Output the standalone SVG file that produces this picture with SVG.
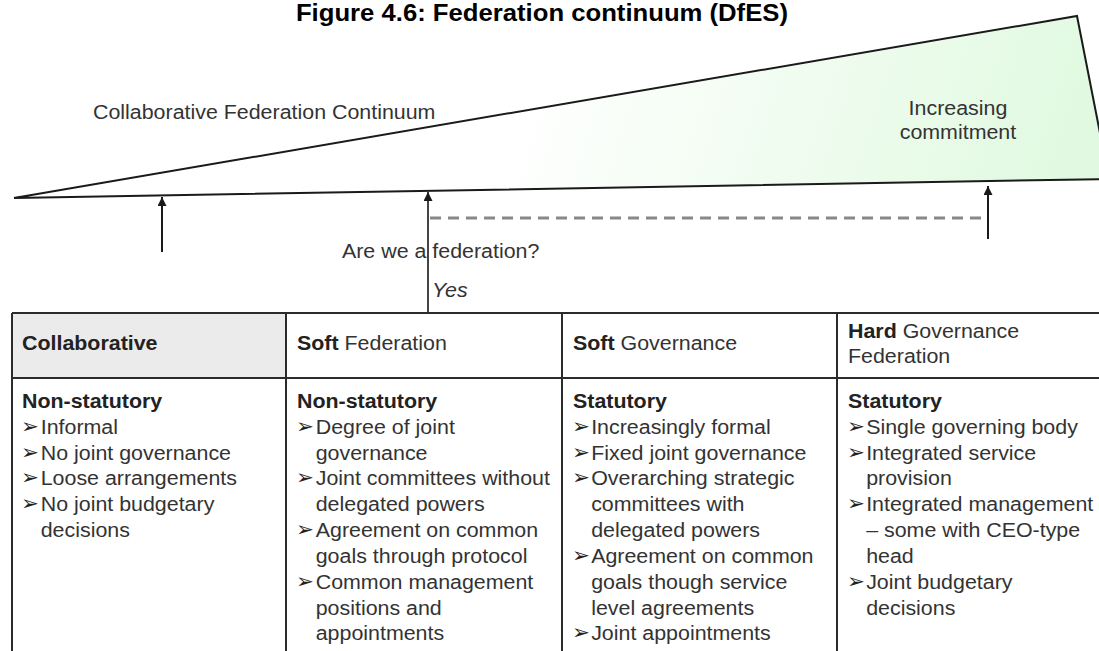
<svg xmlns="http://www.w3.org/2000/svg" width="1099" height="651" viewBox="0 0 1099 651">
<defs>
<linearGradient id="grn" gradientUnits="userSpaceOnUse" x1="540" y1="30" x2="1070" y2="200">
<stop offset="0" stop-color="#ffffff"/>
<stop offset="1" stop-color="#e0f9e0"/>
</linearGradient>
<marker id="ah" viewBox="0 0 10 10" refX="10" refY="5" markerWidth="9" markerHeight="9" markerUnits="userSpaceOnUse" orient="auto">
<path d="M0,0 L10,5 L0,10 Z" fill="#1a1a1a"/>
</marker>
<style>
text{font-family:"Liberation Sans",Arial,sans-serif;font-size:20px;fill:#333}
.b{font-weight:bold;fill:#222}
.t{font-size:24px;font-weight:bold;fill:#000}
.bl{font-family:"DejaVu Sans","Liberation Sans",sans-serif;font-size:20px;fill:#222}
.grid{stroke:#2b2b2b;stroke-width:2;fill:none}
</style>
</defs>
<rect width="1099" height="651" fill="#fff"/>

<g id="title" transform="scale(1.07 1)">
<text class="t" x="506.5" y="21" text-anchor="middle">Figure 4.6: Federation continuum (DfES)</text>
</g>

<g id="continuum">
<polygon points="14,198 1077,16 1109,179" fill="url(#grn)" stroke="#1a1a1a" stroke-width="2" stroke-linejoin="miter"/>
<g transform="scale(1.07 1)">
<text x="86.9" y="119">Collaborative Federation Continuum</text>
<text x="895.3" y="115" text-anchor="middle">Increasing</text>
<text x="895.3" y="139" text-anchor="middle">commitment</text>
</g>
</g>

<g id="question" transform="scale(1.07 1)">
<text x="319.6" y="258">Are we a federation?</text>
<text x="403.7" y="297" font-style="italic">Yes</text>
</g>

<g id="connectors">
<line x1="162" y1="252" x2="162" y2="197" stroke="#1a1a1a" stroke-width="2" marker-end="url(#ah)"/>
<line x1="428" y1="313" x2="428" y2="192" stroke="#444" stroke-width="2" marker-end="url(#ah)"/>
<line x1="988" y1="239" x2="988" y2="186" stroke="#1a1a1a" stroke-width="2" marker-end="url(#ah)"/>
<line x1="430" y1="218" x2="988" y2="218" stroke="#888" stroke-width="3" stroke-dasharray="11 7"/>
</g>

<g id="table">
<rect x="12" y="313" width="274" height="65" fill="#ebebeb"/>
<path class="grid" d="M12,313 H1099 M12,378 H1099 M12,313 V651 M286,313 V651 M562,313 V651 M837,313 V651"/>
</g>

<g id="col-collaborative" transform="translate(22 0) scale(1.07 1)">
<text class="b" x="0" y="350">Collaborative</text>
<text class="b" x="0" y="408">Non-statutory</text>
<text class="bl" x="-1" y="433">➢</text><text x="17.5" y="434">Informal</text>
<text class="bl" x="-1" y="459">➢</text><text x="17.5" y="460">No joint governance</text>
<text class="bl" x="-1" y="484">➢</text><text x="17.5" y="485">Loose arrangements</text>
<text class="bl" x="-1" y="510">➢</text><text x="17.5" y="511">No joint budgetary</text>
<text x="17.5" y="537">decisions</text>
</g>

<g id="col-soft-federation" transform="translate(297 0) scale(1.07 1)">
<text x="0" y="350"><tspan class="b">Soft</tspan> Federation</text>
<text class="b" x="0" y="408">Non-statutory</text>
<text class="bl" x="-1" y="433">➢</text><text x="17.5" y="434">Degree of joint</text>
<text x="17.5" y="460">governance</text>
<text class="bl" x="-1" y="484">➢</text><text x="17.5" y="485">Joint committees without</text>
<text x="17.5" y="511">delegated powers</text>
<text class="bl" x="-1" y="536">➢</text><text x="17.5" y="537">Agreement on common</text>
<text x="17.5" y="563">goals through protocol</text>
<text class="bl" x="-1" y="588">➢</text><text x="17.5" y="589">Common management</text>
<text x="17.5" y="615">positions and</text>
<text x="17.5" y="640">appointments</text>
</g>

<g id="col-soft-governance" transform="translate(573 0) scale(1.07 1)">
<text x="0" y="350"><tspan class="b">Soft</tspan> Governance</text>
<text class="b" x="0" y="408">Statutory</text>
<text class="bl" x="-1" y="433">➢</text><text x="17" y="434">Increasingly formal</text>
<text class="bl" x="-1" y="459">➢</text><text x="17" y="460">Fixed joint governance</text>
<text class="bl" x="-1" y="484">➢</text><text x="17" y="485">Overarching strategic</text>
<text x="17" y="511">committees with</text>
<text x="17" y="537">delegated powers</text>
<text class="bl" x="-1" y="562">➢</text><text x="17" y="563">Agreement on common</text>
<text x="17" y="589">goals though service</text>
<text x="17" y="615">level agreements</text>
<text class="bl" x="-1" y="639">➢</text><text x="17" y="640">Joint appointments</text>
</g>

<g id="col-hard-governance" transform="translate(848 0) scale(1.07 1)">
<text x="0" y="338"><tspan class="b">Hard</tspan> Governance</text>
<text x="0" y="363">Federation</text>
<text class="b" x="0" y="408">Statutory</text>
<text class="bl" x="-1" y="433">➢</text><text x="17" y="434">Single governing body</text>
<text class="bl" x="-1" y="459">➢</text><text x="17" y="460">Integrated service</text>
<text x="17" y="485">provision</text>
<text class="bl" x="-1" y="510">➢</text><text x="17" y="511">Integrated management</text>
<text x="17" y="537">– some with CEO-type</text>
<text x="17" y="563">head</text>
<text class="bl" x="-1" y="588">➢</text><text x="17" y="589">Joint budgetary</text>
<text x="17" y="615">decisions</text>
</g>
</svg>
